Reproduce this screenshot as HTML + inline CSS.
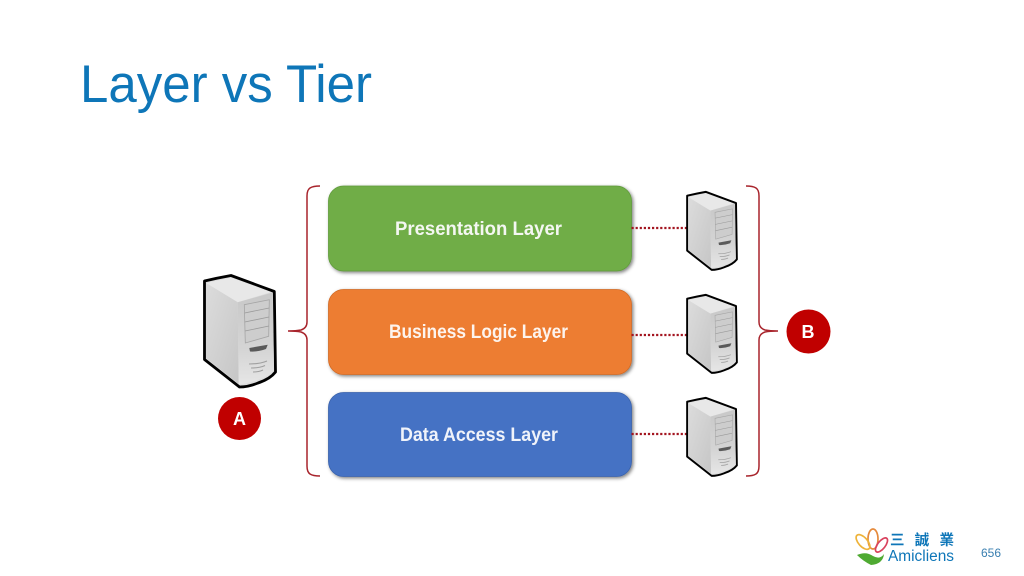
<!DOCTYPE html>
<html>
<head>
<meta charset="utf-8">
<style>
html,body{margin:0;padding:0;background:#fff;width:1024px;height:576px;overflow:hidden}
svg{display:block}
text{font-family:"Liberation Sans","DejaVu Sans","Noto Sans CJK SC",sans-serif}
</style>
</head>
<body>
<svg width="1024" height="576" viewBox="0 0 1024 576" xmlns="http://www.w3.org/2000/svg">
<defs>
<filter id="sh" x="-5%" y="-10%" width="110%" height="125%">
<feGaussianBlur in="SourceAlpha" stdDeviation="1.8"/>
<feOffset dx="1.5" dy="1.500"/>
<feComponentTransfer><feFuncA type="linear" slope="0.5"/></feComponentTransfer>
<feMerge><feMergeNode/><feMergeNode in="SourceGraphic"/></feMerge>
</filter>
<filter id="soft" x="-5%" y="-5%" width="110%" height="110%"><feGaussianBlur stdDeviation="0.35"/></filter>
<linearGradient id="front" x1="0" y1="0" x2="0" y2="1">
<stop offset="0" stop-color="#c8c8c8"/><stop offset="0.6" stop-color="#d4d4d4"/><stop offset="1" stop-color="#e6e6e6"/>
</linearGradient>
<linearGradient id="side" x1="0" y1="0" x2="1" y2="1">
<stop offset="0" stop-color="#dcdcdc"/><stop offset="1" stop-color="#c6c6c6"/>
</linearGradient>
<g id="srv" filter="url(#soft)">
<path d="M204.500,281 Q217,278 231,275.500 L274.300,291.500 L275.500,372 Q270,379 258,383 Q248,387 239.500,387 L204.500,359.500 Z" fill="#ddd" stroke="#000" stroke-width="2.800" stroke-linejoin="round"/>
<path d="M206,283 L231,277.500 L271,292 L237.700,302.300 Z" fill="#e8e8e8"/>
<path d="M206,283 L237.700,302.300 L238.700,384 L206,358 Z" fill="url(#side)"/>
<path d="M237.700,302.300 L272.500,292.500 L274,371 Q262,381 238.700,384.500 Z" fill="url(#front)"/>
<path d="M244.300,304.700 L269.300,299.700 L268.700,336.300 L245.300,343 Z" fill="#cdcdcd" stroke="#a5a5a5" stroke-width="0.800"/>
<path d="M244.600,313 L269.200,308 M244.800,322 L269,317 M245,331 L269,326" stroke="#9a9a9a" stroke-width="0.800" fill="none"/>
<path d="M249.300,348 L267.700,344.700 L266,349 Q258,352 250,351.500 Z" fill="#5a5a5a"/>
<path d="M249,364 Q260,364 267,361 M251,368 Q260,368 265,365.500 M253,372 Q259,372 263,370" stroke="#a0a0a0" stroke-width="1.100" fill="none"/>
</g>
</defs>

<text x="80" y="102" font-size="53" fill="#0e76b8" textLength="292" lengthAdjust="spacingAndGlyphs">Layer vs Tier</text>

<rect x="328.500" y="186" width="303" height="85" rx="15" fill="#70ad47" stroke="#5f9a3b" stroke-width="0.800" filter="url(#sh)"/>
<rect x="328.500" y="289.500" width="303" height="85" rx="15" fill="#ed7d31" stroke="#d06a25" stroke-width="0.800" filter="url(#sh)"/>
<rect x="328.500" y="392.500" width="303" height="84" rx="15" fill="#4472c4" stroke="#3a62ab" stroke-width="0.800" filter="url(#sh)"/>

<text x="395" y="235" font-size="19" font-weight="bold" fill="#f4f7f2" textLength="167" lengthAdjust="spacingAndGlyphs">Presentation Layer</text>
<text x="389" y="338" font-size="19" font-weight="bold" fill="#fdf4ee" textLength="179" lengthAdjust="spacingAndGlyphs">Business Logic Layer</text>
<text x="400" y="441" font-size="19" font-weight="bold" fill="#f0f3fa" textLength="158" lengthAdjust="spacingAndGlyphs">Data Access Layer</text>

<path d="M631.500,228 H687 M631.500,335 H687 M631.500,434 H687" stroke="#a31520" stroke-width="2.200" stroke-dasharray="2.200 1.900" fill="none"/>

<path d="M320,186 Q313,186 310,188 Q307,190 307,196 V322 Q307,328 301,330 Q296,331 288,331 Q296,331 301,332 Q307,334 307,340 V466 Q307,472 310,474 Q313,476 320,476" fill="none" stroke="#a8242c" stroke-width="1.500"/>
<path d="M746,186 Q753,186 756,188 Q759,190 759,196 V322 Q759,328 765,330 Q770,331 778,331 Q770,331 765,332 Q759,334 759,340 V466 Q759,472 756,474 Q753,476 746,476" fill="none" stroke="#a8242c" stroke-width="1.500"/>

<use href="#srv"/>
<g transform="translate(544,-1) scale(0.7,0.7)"><use href="#srv"/></g>
<g transform="translate(544,102) scale(0.7,0.7)"><use href="#srv"/></g>
<g transform="translate(544,205) scale(0.7,0.7)"><use href="#srv"/></g>

<circle cx="239.500" cy="418.500" r="21.500" fill="#c00000"/>
<text x="239.500" y="425" font-size="18" font-weight="bold" fill="#fff" text-anchor="middle">A</text>
<circle cx="808.500" cy="331.500" r="22" fill="#c00000"/>
<text x="808" y="338" font-size="18" font-weight="bold" fill="#fff" text-anchor="middle">B</text>

<g fill="none" stroke-width="1.700">
<ellipse cx="873" cy="539" rx="5" ry="10" stroke="#e58a3c"/>
<ellipse cx="863" cy="542" rx="4.500" ry="9" stroke="#eeb33a" transform="rotate(-42 863 542)"/>
<ellipse cx="881.500" cy="545" rx="3.800" ry="8.500" stroke="#d9425e" transform="rotate(38 881.500 545)"/>
</g>
<path d="M857,555 Q866,551 873,556 Q880,560 884,554 Q883,564 871,565 Q863,561 857,555 Z" fill="#4faa32"/>
<text x="890" y="545" font-size="14.500" font-weight="bold" fill="#0e76b8" textLength="64" lengthAdjust="spacing" style="font-family:'Noto Sans CJK TC','WenQuanYi Zen Hei',sans-serif">三誠業</text>
<text x="888" y="561" font-size="15.500" fill="#0e76b8" textLength="66" lengthAdjust="spacingAndGlyphs">Amicliens</text>
<text x="981" y="557" font-size="11.500" fill="#3a7fb0" textLength="20" lengthAdjust="spacingAndGlyphs">656</text>
</svg>
</body>
</html>
